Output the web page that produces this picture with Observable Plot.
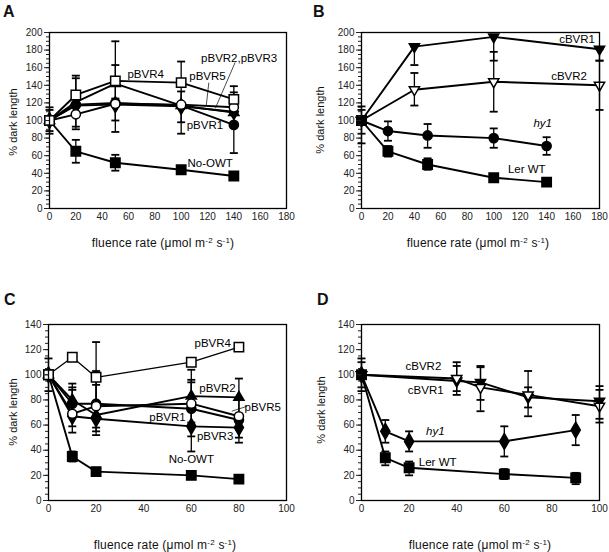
<!DOCTYPE html>
<html>
<head>
<meta charset="utf-8">
<script src="https://cdn.jsdelivr.net/npm/d3@7"></script>
<script src="https://cdn.jsdelivr.net/npm/@observablehq/plot@0.6"></script>
<style>
  body { margin: 0; background: white; }
  #root { position: relative; width: 609px; height: 552px; background: white; font-family: "Liberation Sans", Arial, sans-serif; color: #111; }
  .letter { position: absolute; font-weight: bold; font-size: 16px; }
  .ytitle { position: absolute; font-size: 11px; white-space: nowrap; transform: translate(-50%, -50%) rotate(-90deg); }
  .xtitle { position: absolute; font-size: 12px; white-space: nowrap; transform: translate(-50%, -50%); letter-spacing: 0.2px; }
  .xtitle sup { font-size: 8px; vertical-align: 4px; line-height: 0; }
  svg.panel { position: absolute; overflow: visible; background: transparent; }
</style>
</head>
<body>
<div id="root"></div>
<script>
// ---------------- Panel A data ----------------
const xA = [0, 20, 50, 100, 140];
const A_pBVR4 = [100, 129, 145, 143, 124];
const A_pBVR2 = [100, 121, 142, 117, 109];
const A_pBVR3 = [100, 117, 118, 116, 110];
const A_pBVR1 = [100, 118, 120, 117, 95];
const A_pBVR5 = [100, 107, 119, 118, 115];
const A_noOWT = [100, 65, 52, 44, 37];
const A_err = [[0, 85, 115], [0, 88, 112], [20, 90, 151], [20, 93, 148], [20, 52, 78],
  [50, 100, 190], [50, 125, 163], [50, 87, 120], [50, 43, 61],
  [100, 119, 167], [100, 85, 133], [100, 98, 118],
  [140, 110, 139], [140, 63, 127], [140, 106, 132]];
const A_labels = ["pBVR4", "pBVR2,pBVR3", "pBVR5", "pBVR1", "No-OWT"];
const A_labelX = [73, 144, 120, 118, 122];
const A_labelY = [153, 171, 150, 95, 51];
const A_leaders = [[121, 143, 119, 116], [141, 166, 126, 114]];

// ---------------- Panel B data ----------------
const xB_cBVR = [0, 40, 100, 180];
const B_cBVR1 = [100, 184, 195, 181];
const B_cBVR2 = [100, 135, 144, 140];
const xB_other = [0, 20, 50, 100, 140];
const B_hy1 = [100, 88, 83, 80, 71];
const B_LerWT = [100, 65, 50, 35, 30];
const B_err = [[0, 74, 116], [0, 85, 112], [20, 77, 99], [20, 59, 71],
  [40, 163, 184], [40, 117, 154], [50, 69, 96], [50, 44, 57],
  [100, 110, 178], [100, 168, 195], [100, 69, 91], [100, 31, 39],
  [140, 61, 81], [180, 112, 168], [180, 168, 181]];
const B_labels = ["cBVR1", "cBVR2", "hy1", "Ler WT"];
const B_labelX = [163, 157, 137, 125];
const B_labelY = [192, 150, 97, 45];

// ---------------- Panel C data ----------------
const xC = [0, 10, 20, 60, 80];
const C_pBVR4 = [100, 114, 98, 110, 122];
const C_pBVR2 = [100, 80, 68, 83, 82];
const C_pBVR5 = [100, 69, 75, 77, 67];
const C_pBVR1 = [100, 77, 77, 73, 64];
const C_pBVR3 = [100, 67, 65, 59, 58];
const C_noOWT = [100, 35, 23, 20, 17];
const C_err = [[0, 87, 113], [10, 54, 93], [10, 59, 90], [10, 67, 88], [10, 31, 39],
  [20, 52, 126], [20, 58, 103], [20, 55, 92],
  [60, 39, 104], [60, 51, 96], [60, 62, 94],
  [80, 46, 97], [80, 50, 80]];
const C_labels = ["pBVR4", "pBVR2", "pBVR5", "pBVR1", "pBVR3", "No-OWT"];
const C_labelX = [69, 71, 90, 50, 70, 60];
const C_labelY = [125, 89, 74, 66, 51, 33];
const C_leaders = [[83.5, 75, 77, 71]];

// ---------------- Panel D data ----------------
const xD_cBVR = [0, 40, 50, 70, 100];
const D_cBVR2 = [100, 97, 90, 84, 75];
const D_cBVR1 = [100, 95, 94, 82, 79];
const xD_other = [0, 10, 20, 60, 90];
const D_hy1 = [100, 55, 47, 47, 56];
const D_LerWT = [100, 34, 26, 21, 18];
const D_err = [[0, 87, 113], [0, 90, 110], [10, 46, 64], [10, 28, 39], [20, 39, 55], [20, 20, 31],
  [60, 35, 59], [60, 17, 25], [90, 44, 68], [90, 13, 22],
  [40, 84, 110], [40, 87, 107], [50, 71, 107], [50, 80, 106],
  [70, 67, 103], [70, 74, 90], [100, 62, 91], [100, 65, 88]];
const D_labels = ["cBVR2", "cBVR1", "hy1", "Ler WT"];
const D_labelX = [26, 27, 31, 32];
const D_labelY = [107, 87.5, 55, 30];

// ---------------- symbols ----------------
const capSymbol = {
  draw(ctx, size) { const w = Math.sqrt(size / Math.PI); ctx.moveTo(-w, 0); ctx.lineTo(w, 0); }
};
const downTriangle = {
  draw(ctx, size) {
    const a = Math.sqrt(size) * 1.2, h = a * 0.866;
    ctx.moveTo(-a / 2, -h / 3); ctx.lineTo(a / 2, -h / 3); ctx.lineTo(0, 2 * h / 3); ctx.closePath();
  }
};
const upTriangle = {
  draw(ctx, size) {
    const a = Math.sqrt(size) * 1.2, h = a * 0.866;
    ctx.moveTo(-a / 2, h / 3); ctx.lineTo(a / 2, h / 3); ctx.lineTo(0, -2 * h / 3); ctx.closePath();
  }
};

const sq = {symbol: "square", r: 5.3};
const ci = {symbol: "circle", r: 4.6};
const di = {symbol: "diamond", r: 4.8};
const tu = {symbol: upTriangle, r: 4.8};
const td = {symbol: downTriangle, r: 4.8};
const FILLED = "black", OPEN = "white";

function panel(cfg) {
  const marks = [];
  // error bars
  marks.push(Plot.ruleX(cfg.err, {x: d => d[0], y1: d => d[1], y2: d => d[2], stroke: "black", strokeWidth: 1.3}));
  marks.push(Plot.dot(cfg.err, {x: d => d[0], y: d => d[1], symbol: capSymbol, r: 4, stroke: "black", strokeWidth: 1.8, fill: "none"}));
  marks.push(Plot.dot(cfg.err, {x: d => d[0], y: d => d[2], symbol: capSymbol, r: 4, stroke: "black", strokeWidth: 1.8, fill: "none"}));
  // lines
  for (const s of cfg.series) {
    const rows = s.x.map((x, i) => ({x, y: s.y[i]}));
    marks.push(Plot.line(rows, {x: "x", y: "y", stroke: "black", strokeWidth: s.lw ?? 1.9}));
  }
  // leader lines
  if (cfg.leaders) marks.push(Plot.link(cfg.leaders, {x1: d => d[0], y1: d => d[1], x2: d => d[2], y2: d => d[3], stroke: "black", strokeWidth: 0.7}));
  // markers
  for (const s of cfg.series) {
    const rows = s.x.map((x, i) => ({x, y: s.y[i]}));
    marks.push(Plot.dot(rows, {x: "x", y: "y", symbol: s.m.symbol, r: s.m.r, fill: s.fill, stroke: "black", strokeWidth: 1.5}));
  }
  // labels
  const lab = cfg.labels.map((t, i) => ({t, x: cfg.labelX[i], y: cfg.labelY[i]}));
  marks.push(Plot.text(lab.filter(d => d.t !== "hy1"), {x: "x", y: "y", text: "t", fontSize: 11.5, fill: "black"}));
  marks.push(Plot.text(lab.filter(d => d.t === "hy1"), {x: "x", y: "y", text: "t", fontSize: 11.5, fill: "black", fontStyle: "italic"}));
  marks.push(Plot.axisY({ticks: d3.range(0, cfg.ymax + 1, 5), tickSize: 3, tickFormat: () => "", label: null}));
  marks.push(Plot.axisY({ticks: d3.range(0, cfg.ymax + 1, 20), tickSize: 5, tickPadding: 2, label: null, fontSize: 10}));
  marks.push(Plot.axisX({ticks: d3.range(0, cfg.xmax + 1, 20), tickSize: 0, tickPadding: 4, label: null, fontSize: 10}));
  marks.push(Plot.frame({stroke: "black", strokeWidth: 1.3}));
  const svg = Plot.plot({
    width: cfg.width, height: cfg.height,
    marginLeft: cfg.ml, marginRight: cfg.mr, marginTop: cfg.mt, marginBottom: cfg.mb,
    x: {domain: [0, cfg.xmax]},
    y: {domain: [0, cfg.ymax]},
    style: {fontFamily: "Liberation Sans, Arial, sans-serif", fontSize: "10px", color: "#222", background: "transparent", overflow: "visible"},
    marks
  });
  svg.classList.add("panel");
  svg.style.left = cfg.left + "px";
  svg.style.top = cfg.top + "px";
  return svg;
}

const root = document.getElementById("root");

root.appendChild(panel({
  left: 0, top: 0, width: 300, height: 238, ml: 49, mr: 14, mt: 32, mb: 30, xmax: 180, ymax: 200,
  err: A_err, labels: A_labels, labelX: A_labelX, labelY: A_labelY, leaders: A_leaders,
  series: [
    {x: xA, y: A_noOWT, m: sq, fill: FILLED},
    {x: xA, y: A_pBVR1, m: ci, fill: FILLED},
    {x: xA, y: A_pBVR3, m: di, fill: FILLED},
    {x: xA, y: A_pBVR2, m: tu, fill: FILLED},
    {x: xA, y: A_pBVR5, m: ci, fill: OPEN},
    {x: xA, y: A_pBVR4, m: sq, fill: OPEN}
  ]
}));

root.appendChild(panel({
  left: 300, top: 0, width: 309, height: 238, ml: 61, mr: 10, mt: 32, mb: 30, xmax: 180, ymax: 200,
  err: B_err, labels: B_labels, labelX: B_labelX, labelY: B_labelY,
  series: [
    {x: xB_cBVR, y: B_cBVR1, m: td, fill: FILLED},
    {x: xB_cBVR, y: B_cBVR2, m: td, fill: OPEN},
    {x: xB_other, y: B_hy1, m: ci, fill: FILLED},
    {x: xB_other, y: B_LerWT, m: sq, fill: FILLED}
  ]
}));

root.appendChild(panel({
  left: 0, top: 280, width: 300, height: 250, ml: 48, mr: 14, mt: 44, mb: 30, xmax: 100, ymax: 140,
  err: C_err, labels: C_labels, labelX: C_labelX, labelY: C_labelY, leaders: C_leaders,
  series: [
    {x: xC, y: C_noOWT, m: sq, fill: FILLED},
    {x: xC, y: C_pBVR3, m: di, fill: FILLED},
    {x: xC, y: C_pBVR1, m: ci, fill: FILLED},
    {x: xC, y: C_pBVR2, m: tu, fill: FILLED},
    {x: xC, y: C_pBVR5, m: ci, fill: OPEN},
    {x: xC, y: C_pBVR4, m: sq, fill: OPEN, lw: 1.3}
  ]
}));

root.appendChild(panel({
  left: 300, top: 280, width: 309, height: 250, ml: 61, mr: 10, mt: 44, mb: 30, xmax: 100, ymax: 140,
  err: D_err, labels: D_labels, labelX: D_labelX, labelY: D_labelY,
  series: [
    {x: xD_cBVR, y: D_cBVR1, m: td, fill: FILLED},
    {x: xD_cBVR, y: D_cBVR2, m: td, fill: OPEN},
    {x: xD_other, y: D_hy1, m: di, fill: FILLED},
    {x: xD_other, y: D_LerWT, m: sq, fill: FILLED}
  ]
}));

// panel letters and axis titles
const letters = [["A", 3, 3], ["B", 313, 3], ["C", 4, 291], ["D", 317, 291]];
for (const [t, l, tp] of letters) {
  const d = document.createElement("div");
  d.className = "letter"; d.textContent = t; d.style.left = l + "px"; d.style.top = tp + "px";
  root.appendChild(d);
}
const yTitles = [[13, 122], [320, 120], [13, 412], [321, 410]];
for (const [cx, cy] of yTitles) {
  const d = document.createElement("div");
  d.className = "ytitle"; d.textContent = "% dark length";
  d.style.left = cx + "px"; d.style.top = cy + "px";
  root.appendChild(d);
}
const xTitles = [[163, 243], [478, 243], [165, 545], [480, 545]];
for (const [cx, cy] of xTitles) {
  const d = document.createElement("div");
  d.className = "xtitle";
  d.innerHTML = "fluence rate (\u03bcmol m<sup>-2</sup> s<sup>-1</sup>)";
  d.style.left = cx + "px"; d.style.top = cy + "px";
  root.appendChild(d);
}
</script>
</body>
</html>
